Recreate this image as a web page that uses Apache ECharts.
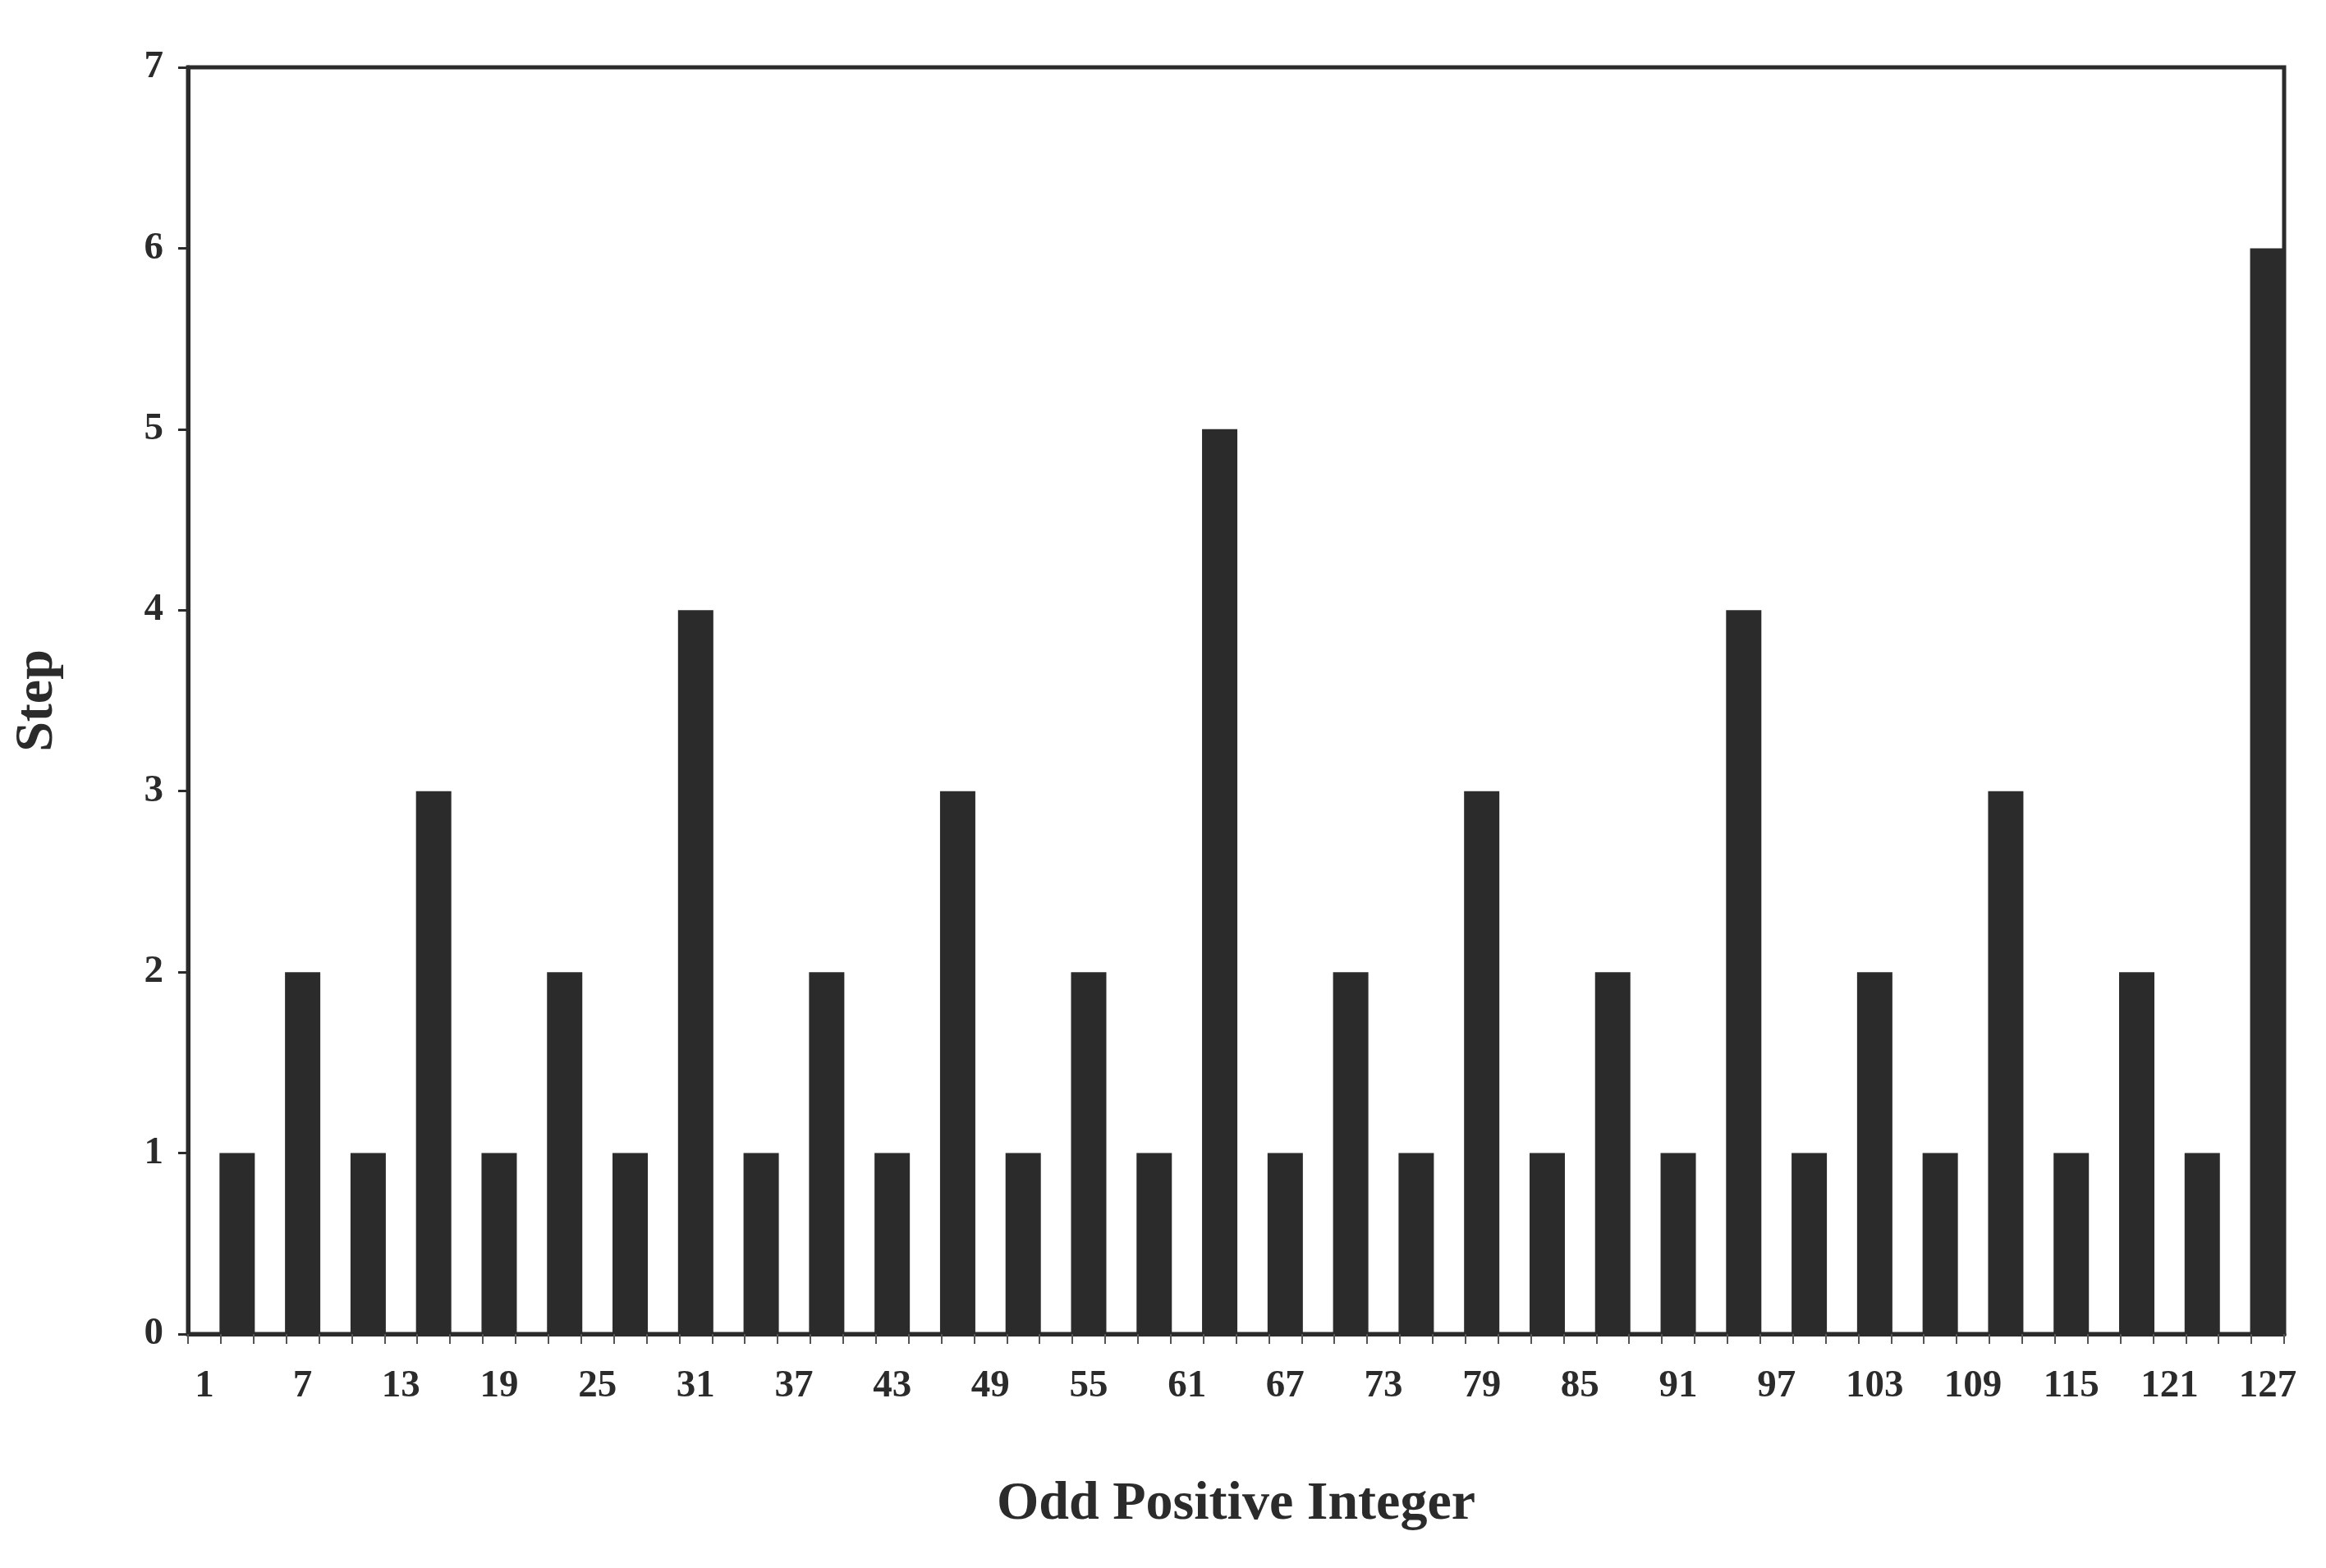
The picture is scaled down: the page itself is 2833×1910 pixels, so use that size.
<!DOCTYPE html>
<html>
<head>
<meta charset="utf-8">
<script src="https://cdn.jsdelivr.net/npm/echarts@6/dist/echarts.min.js"></script>
<style>html,body{margin:0;background:#fff}#c{width:2833px;height:1910px}</style>
</head>
<body>
<div id="c"></div>
<script>
var categories = [];
for (var n = 1; n <= 127; n += 2) categories.push(String(n));
var steps = [
    0,1,0,2,0,1,0,3,0,1,0,2,0,1,0,4,
    0,1,0,2,0,1,0,3,0,1,0,2,0,1,0,5,
    0,1,0,2,0,1,0,3,0,1,0,2,0,1,0,4,
    0,1,0,2,0,1,0,3,0,1,0,2,0,1,0,6
];
var yTicks = [0, 7, 1];

var font = 'Liberation Serif';
var chart = echarts.init(document.getElementById('c'));
chart.setOption({
    animation: false,
    grid: { left: 229, right: 51, top: 82, bottom: 285, show: true, borderColor: '#2b2b2b', borderWidth: 5 },
    xAxis: {
        type: 'category', data: categories,
        name: 'Odd Positive Integer', nameLocation: 'middle', nameGap: 175,
        nameTextStyle: { fontFamily: font, fontWeight: 'bold', fontSize: 66, color: '#2b2b2b' },
        axisLine: { lineStyle: { color: '#2b2b2b', width: 5 } },
        axisTick: { show: true, interval: 0, length: 12, lineStyle: { color: '#555', width: 2 } },
        axisLabel: { interval: 2, margin: 40, fontFamily: font, fontWeight: 'bold', fontSize: 47, color: '#2b2b2b' }
    },
    yAxis: {
        type: 'value', min: yTicks[0], max: yTicks[1], interval: yTicks[2],
        name: 'Step', nameLocation: 'middle', nameGap: 150,
        nameTextStyle: { fontFamily: font, fontWeight: 'bold', fontSize: 66, color: '#2b2b2b' },
        splitLine: { show: false },
        axisLine: { show: true, lineStyle: { color: '#2b2b2b', width: 5 } },
        axisTick: { show: true, length: 12, lineStyle: { color: '#2b2b2b', width: 3 } },
        axisLabel: { margin: 30, fontFamily: font, fontWeight: 'bold', fontSize: 47, color: '#2b2b2b' }
    },
    series: [{
        type: 'bar', data: steps, barWidth: 43,
        itemStyle: { color: '#2b2b2b' }
    }]
});
</script>
</body>
</html>
